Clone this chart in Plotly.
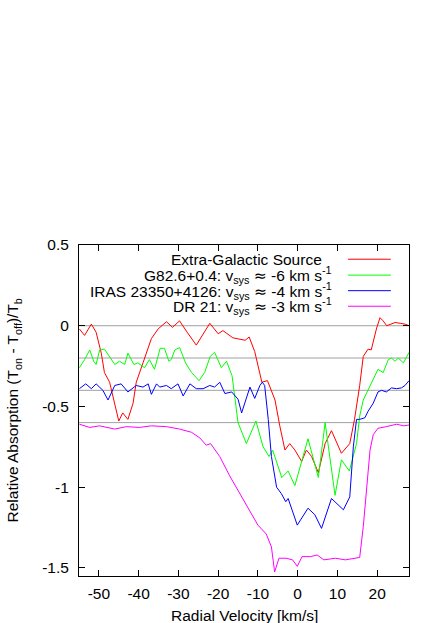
"""HI absorption spectra towards extra-galactic source and three Galactic sources."""

import plotly.graph_objects as go

# Extra-Galactic source
red_v = [-54.9, -53.6, -51.9, -50.7, -49.4, -48.6, -47.3, -46.0, -45.0, -44.0,
         -42.7, -41.4, -40.6, -38.9, -36.8, -35.1, -33.0, -31.5, -29.7, -27.8,
         -25.5, -22.1, -20.0, -18.8, -16.3, -13.2, -12.2, -10.8, -10.0, -9.0,
         -7.6, -6.6, -5.7, -4.5, -3.2, -2.0, -0.7, 1.0, 2.2, 3.5,
         5.2, 6.9, 8.5, 11.0, 13.1, 14.3, 15.6, 16.5, 17.7, 18.5,
         19.8, 20.7, 21.5, 22.4, 23.5, 24.5, 25.8, 27.0, 28.0]
red_abs = [-0.02, -0.06, 0.01, -0.04, -0.17, -0.29, -0.35, -0.48, -0.59, -0.54,
           -0.58, -0.48, -0.35, -0.23, -0.08, -0.02, 0.025, -0.01, 0.03, -0.04,
           -0.12, 0.015, -0.05, -0.03, -0.075, -0.09, -0.07, -0.16, -0.25, -0.35,
           -0.34, -0.41, -0.46, -0.62, -0.77, -0.73, -0.77, -0.84, -0.77, -0.81,
           -0.91, -0.73, -0.65, -0.79, -0.73, -0.58, -0.37, -0.19, -0.145, -0.15,
           -0.02, 0.05, 0.03, 0.0, 0.01, 0.02, 0.015, 0.01, 0.0]

# G82.6+0.4
green_v = [-54.9, -53.6, -52.3, -51.3, -50.7, -49.8, -48.6, -47.3, -46.0, -44.8,
           -43.5, -42.7, -41.2, -40.2, -38.5, -37.3, -36.0, -34.6, -33.5, -32.4,
           -31.8, -30.9, -29.7, -28.2, -26.7, -24.8, -23.4, -22.0, -20.9, -19.2,
           -17.9, -16.5, -15.0, -12.9, -10.5, -8.7, -7.2, -6.3, -4.0, -2.4,
           -0.7, 2.6, 5.2, 6.9, 9.4, 11.0, 13.0, 14.8, 15.6, 16.5,
           17.5, 19.0, 20.2, 21.5, 22.8, 23.6, 24.5, 25.3, 26.6, 28.0]
green_abs = [-0.26, -0.21, -0.15, -0.22, -0.24, -0.15, -0.145, -0.19, -0.24, -0.22,
             -0.24, -0.17, -0.24, -0.23, -0.26, -0.21, -0.27, -0.14, -0.14, -0.22,
             -0.21, -0.15, -0.135, -0.23, -0.29, -0.34, -0.29, -0.19, -0.165, -0.26,
             -0.22, -0.31, -0.60, -0.73, -0.59, -0.75, -0.81, -0.77, -0.94, -0.90,
             -0.99, -0.70, -0.94, -0.60, -1.05, -0.83, -0.90, -0.73, -0.56, -0.46,
             -0.41, -0.33, -0.27, -0.29, -0.21, -0.20, -0.22, -0.20, -0.23, -0.165]

# IRAS 23350+4126
blue_v = [-54.9, -53.3, -51.9, -50.7, -49.0, -47.7, -46.0, -44.4, -42.7, -40.6,
          -38.9, -37.6, -36.8, -35.5, -34.7, -33.0, -31.8, -30.1, -28.8, -27.1,
          -25.5, -23.8, -22.1, -20.9, -19.6, -18.3, -16.6, -15.0, -14.1, -12.0,
          -10.8, -9.5, -8.9, -8.3, -7.4, -6.6, -5.3, -4.1, -3.0, -2.4,
          -0.1, 2.6, 4.3, 6.0, 8.5, 11.5, 13.1, 14.0, 14.8, 15.6,
          16.9, 17.7, 19.0, 20.2, 21.1, 22.3, 23.6, 24.9, 26.1, 27.0, 28.0]
blue_abs = [-0.39, -0.36, -0.39, -0.36, -0.40, -0.46, -0.37, -0.36, -0.41, -0.37,
            -0.38, -0.36, -0.425, -0.36, -0.38, -0.37, -0.39, -0.36, -0.435, -0.36,
            -0.39, -0.39, -0.37, -0.38, -0.35, -0.42, -0.41, -0.455, -0.54, -0.38,
            -0.45, -0.37, -0.35, -0.37, -0.58, -0.81, -1.00, -1.04, -1.09, -1.07,
            -1.235, -1.13, -1.17, -1.255, -1.07, -1.14, -1.06, -0.75, -0.58, -0.58,
            -0.57, -0.53, -0.48, -0.41, -0.40, -0.41, -0.385, -0.39, -0.385, -0.37, -0.34]

# DR 21
magenta_v = [-54.9, -52.3, -49.8, -46.0, -43.1, -39.8, -36.8, -33.0, -29.7, -26.7,
             -24.6, -23.0, -21.9, -19.6, -17.1, -14.6, -12.1, -10.0, -7.9, -6.6,
             -5.8, -4.7, -2.9, -1.3, -0.1, 1.1, 3.2, 4.9, 6.6, 9.5,
             12.0, 15.6, 16.5, 17.3, 18.2, 19.0, 20.2, 22.3, 24.9, 26.6, 28.0]
magenta_abs = [-0.61, -0.63, -0.62, -0.64, -0.625, -0.63, -0.62, -0.625, -0.64, -0.66,
               -0.695, -0.74, -0.73, -0.81, -0.93, -1.04, -1.15, -1.235, -1.29, -1.37,
               -1.525, -1.44, -1.44, -1.45, -1.49, -1.43, -1.43, -1.42, -1.45, -1.44,
               -1.45, -1.435, -1.245, -1.0, -0.77, -0.675, -0.635, -0.625, -0.61, -0.62, -0.615]

ref_levels = [0, -0.2, -0.4, -0.6]

x_ticks = [-50, -40, -30, -20, -10, 0, 10, 20]
x_ticktext = ['-50', '-40', '-30', '-20', '-10', '0', '10', '20']
y_ticks = [0.5, 0, -0.5, -1, -1.5]
y_ticktext = ['0.5', '0', '-0.5', '-1', '-1.5']

# wider approx sign, like the symbol font in the original key
APPROX = '<span style="font-family:DejaVu Sans">\u2248</span>'

series = [
    ('Extra-Galactic Source', red_v, red_abs, '#ff0000'),
    (f'G82.6+0.4: v<sub>sys</sub> {APPROX} -6 km s<sup>-1</sup>', green_v, green_abs, '#00ff00'),
    (f'IRAS 23350+4126: v<sub>sys</sub> {APPROX} -4 km s<sup>-1</sup>', blue_v, blue_abs, '#0000ff'),
    (f'DR 21: v<sub>sys</sub> {APPROX} -3 km s<sup>-1</sup>', magenta_v, magenta_abs, '#ff00ff'),
]

FONT = 'Liberation Sans, Arial, sans-serif'

fig = go.Figure()

for level in ref_levels:
    fig.add_hline(y=level, line=dict(color='#a0a0a0', width=1), layer='below')

for name, v, a, color in series:
    fig.add_trace(go.Scatter(
        x=v, y=a, mode='lines', name=name,
        line=dict(color=color, width=1),
        showlegend=False
    ))

# gnuplot-style key: right-justified text, sample line to its right
key_y = [0.957, 0.909, 0.862, 0.815]
key_text_x = [0.742, 0.773, 0.773, 0.773]
for (name, v, a, color), ky, kx in zip(series, key_y, key_text_x):
    fig.add_annotation(
        text=name, xref='paper', yref='paper', x=kx, y=ky,
        xanchor='right', yanchor='middle', showarrow=False,
        font=dict(family=FONT, size=15.5, color='black')
    )
    fig.add_shape(
        type='line', xref='paper', yref='paper',
        x0=0.815, x1=0.945, y0=ky, y1=ky,
        line=dict(color=color, width=1)
    )

fig.add_annotation(
    text='Relative Absorption (T<sub>on</sub> - T<sub>off</sub>)/T<sub>b</sub>',
    xref='paper', yref='paper', x=-0.197, y=0.5, textangle=-90,
    xanchor='center', yanchor='middle', showarrow=False,
    font=dict(family=FONT, size=15.5, color='black')
)
fig.add_annotation(
    text='Radial Velocity [km/s]',
    xref='paper', yref='paper', x=0.5, y=-0.119,
    xanchor='center', yanchor='middle', showarrow=False,
    font=dict(family=FONT, size=15.5, color='black')
)

axis_style = dict(
    showgrid=False, zeroline=False,
    showline=True, linecolor='black', linewidth=1, mirror='ticks',
    ticks='inside', ticklen=6, tickcolor='black', tickwidth=1,
    tickfont=dict(family=FONT, size=15.5, color='black')
)

fig.update_xaxes(range=[-55, 28], tickmode='array', ticklabelstandoff=3,
                 tickvals=x_ticks, ticktext=x_ticktext, **axis_style)
fig.update_yaxes(range=[-1.55, 0.5], tickmode='array', ticklabelstandoff=6,
                 tickvals=y_ticks, ticktext=y_ticktext, **axis_style)

fig.update_layout(
    width=436, height=623,
    margin=dict(l=79, r=27, t=245, b=47),
    plot_bgcolor='white', paper_bgcolor='white',
    font=dict(family=FONT, size=15.5, color='black'),
    showlegend=False
)

# drop the default page margin so the figure sits at the window origin
fig.write_html("out.html", config={'displayModeBar': False},
               post_script="document.body.style.margin = '0';")
